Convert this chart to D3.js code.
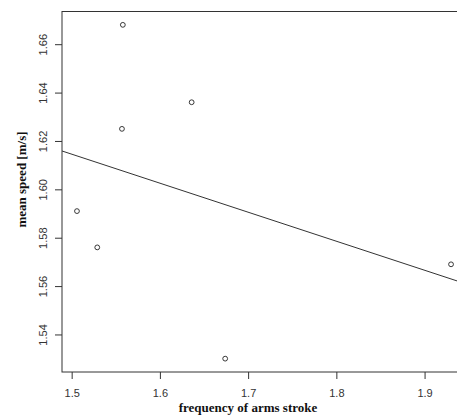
<!DOCTYPE html>
<html>
<head>
<meta charset="utf-8">
<script src="https://cdn.jsdelivr.net/npm/d3@7"></script>
<style>
  body { margin: 0; background: #fff; }
  svg { display: block; }
</style>
</head>
<body>
<script>
// DATA
const strokeFreq = [1.506, 1.529, 1.557, 1.558, 1.636, 1.674, 1.930];         // frequency of arms stroke
const meanSpeed  = [1.591, 1.576, 1.625, 1.668, 1.636, 1.530, 1.569];         // mean speed [m/s]
const xTicks = [1.5, 1.6, 1.7, 1.8, 1.9];
const yTicks = [1.54, 1.56, 1.58, 1.60, 1.62, 1.64, 1.66];

// Needed Variables
const height = 419;
const width = 457;
const plot = {top: 11.5, right: 466, bottom: 372, left: 62};                 // plot box (right edge is cut off in the picture)

var svg = d3.select('body')
  .append('svg')
  .attr('height', height)
  .attr('width', width)
  ;

var points = strokeFreq.map((x, i) => ({x: x, y: meanSpeed[i]}));

// R style limits: data range widened by 4% on each side
function padded(values){
  var ext = d3.extent(values);
  var pad = (ext[1] - ext[0]) * 0.04;
  return [ext[0] - pad, ext[1] + pad];
}

// Scales
var xScale = d3.scaleLinear().domain(padded(strokeFreq)).range([plot.left, plot.right]);
var yScale = d3.scaleLinear().domain(padded(meanSpeed)).range([plot.bottom, plot.top]);

// Least squares fit (abline(lm(y ~ x)))
var mx = d3.mean(strokeFreq), my = d3.mean(meanSpeed);
var slope = d3.sum(points, (d) => (d.x - mx) * (d.y - my)) / d3.sum(points, (d) => (d.x - mx) * (d.x - mx));
var intercept = my - slope * mx;

// Axes
var xAxis = d3.axisBottom(xScale)
  .tickValues(xTicks)
  .tickSize(7)
  .tickPadding(4)
  .tickFormat(d3.format('.1f'))
  ;
var gx = svg.append('g')
  .attr('transform', 'translate(0,' + plot.bottom + ')')
  .call(xAxis)
  ;
gx.select('.domain').remove();
gx.selectAll('line').attr('stroke', '#333');
gx.selectAll('text')
  .attr('fill', '#333')
  .attr('font-family', 'Liberation Sans, Arial, sans-serif')
  .attr('font-size', 11)
  .attr('dy', null)
  .attr('y', 25)
  ;

var yAxis = d3.axisLeft(yScale)
  .tickValues(yTicks)
  .tickSize(7)
  .tickFormat(d3.format('.2f'))
  ;
var gy = svg.append('g')
  .attr('transform', 'translate(' + plot.left + ',0)')
  .call(yAxis)
  ;
gy.select('.domain').remove();
gy.selectAll('line').attr('stroke', '#333');
gy.selectAll('text')                                                           // rotated labels, parallel to axis
  .attr('fill', '#333')
  .attr('font-family', 'Liberation Sans, Arial, sans-serif')
  .attr('font-size', 11)
  .attr('x', null)
  .attr('dy', null)
  .attr('text-anchor', 'middle')
  .attr('transform', 'translate(-15,0) rotate(-90)')
  ;

// Clip to the plot box
svg.append('clipPath')
  .attr('id', 'plotclip')
  .append('rect')
  .attr('x', plot.left)
  .attr('y', plot.top)
  .attr('width', plot.right - plot.left)
  .attr('height', plot.bottom - plot.top)
  ;

// Regression line
var x0 = xScale.domain()[0], x1 = xScale.domain()[1];
svg.append('line')
  .attr('clip-path', 'url(#plotclip)')
  .attr('x1', xScale(x0))
  .attr('y1', yScale(intercept + slope * x0))
  .attr('x2', xScale(x1))
  .attr('y2', yScale(intercept + slope * x1))
  .attr('stroke', '#333')
  .attr('stroke-width', 1)
  ;

// Points
svg.append('g')
  .selectAll('circle')
  .data(points)
  .join('circle')
  .attr('cx', (d) => xScale(d.x))
  .attr('cy', (d) => yScale(d.y))
  .attr('r', 2.4)
  .attr('fill', 'none')
  .attr('stroke', '#222')
  .attr('stroke-width', 0.9)
  ;

// Box
svg.append('rect')
  .attr('x', plot.left)
  .attr('y', plot.top)
  .attr('width', plot.right - plot.left)
  .attr('height', plot.bottom - plot.top)
  .attr('fill', 'none')
  .attr('stroke', '#333')
  .attr('stroke-width', 1)
  ;

// Axis titles
svg.append('text')
  .attr('x', 248)
  .attr('y', 412)
  .attr('text-anchor', 'middle')
  .attr('font-family', 'Liberation Serif, Times New Roman, serif')
  .attr('font-weight', 'bold')
  .attr('font-size', 13)
  .attr('fill', '#111')
  .text('frequency of arms stroke')
  ;

svg.append('text')
  .attr('transform', 'translate(25.5,179.5) rotate(-90)')
  .attr('text-anchor', 'middle')
  .attr('font-family', 'Liberation Serif, Times New Roman, serif')
  .attr('font-weight', 'bold')
  .attr('font-size', 13)
  .attr('fill', '#111')
  .text('mean speed [m/s]')
  ;
</script>
</body>
</html>
